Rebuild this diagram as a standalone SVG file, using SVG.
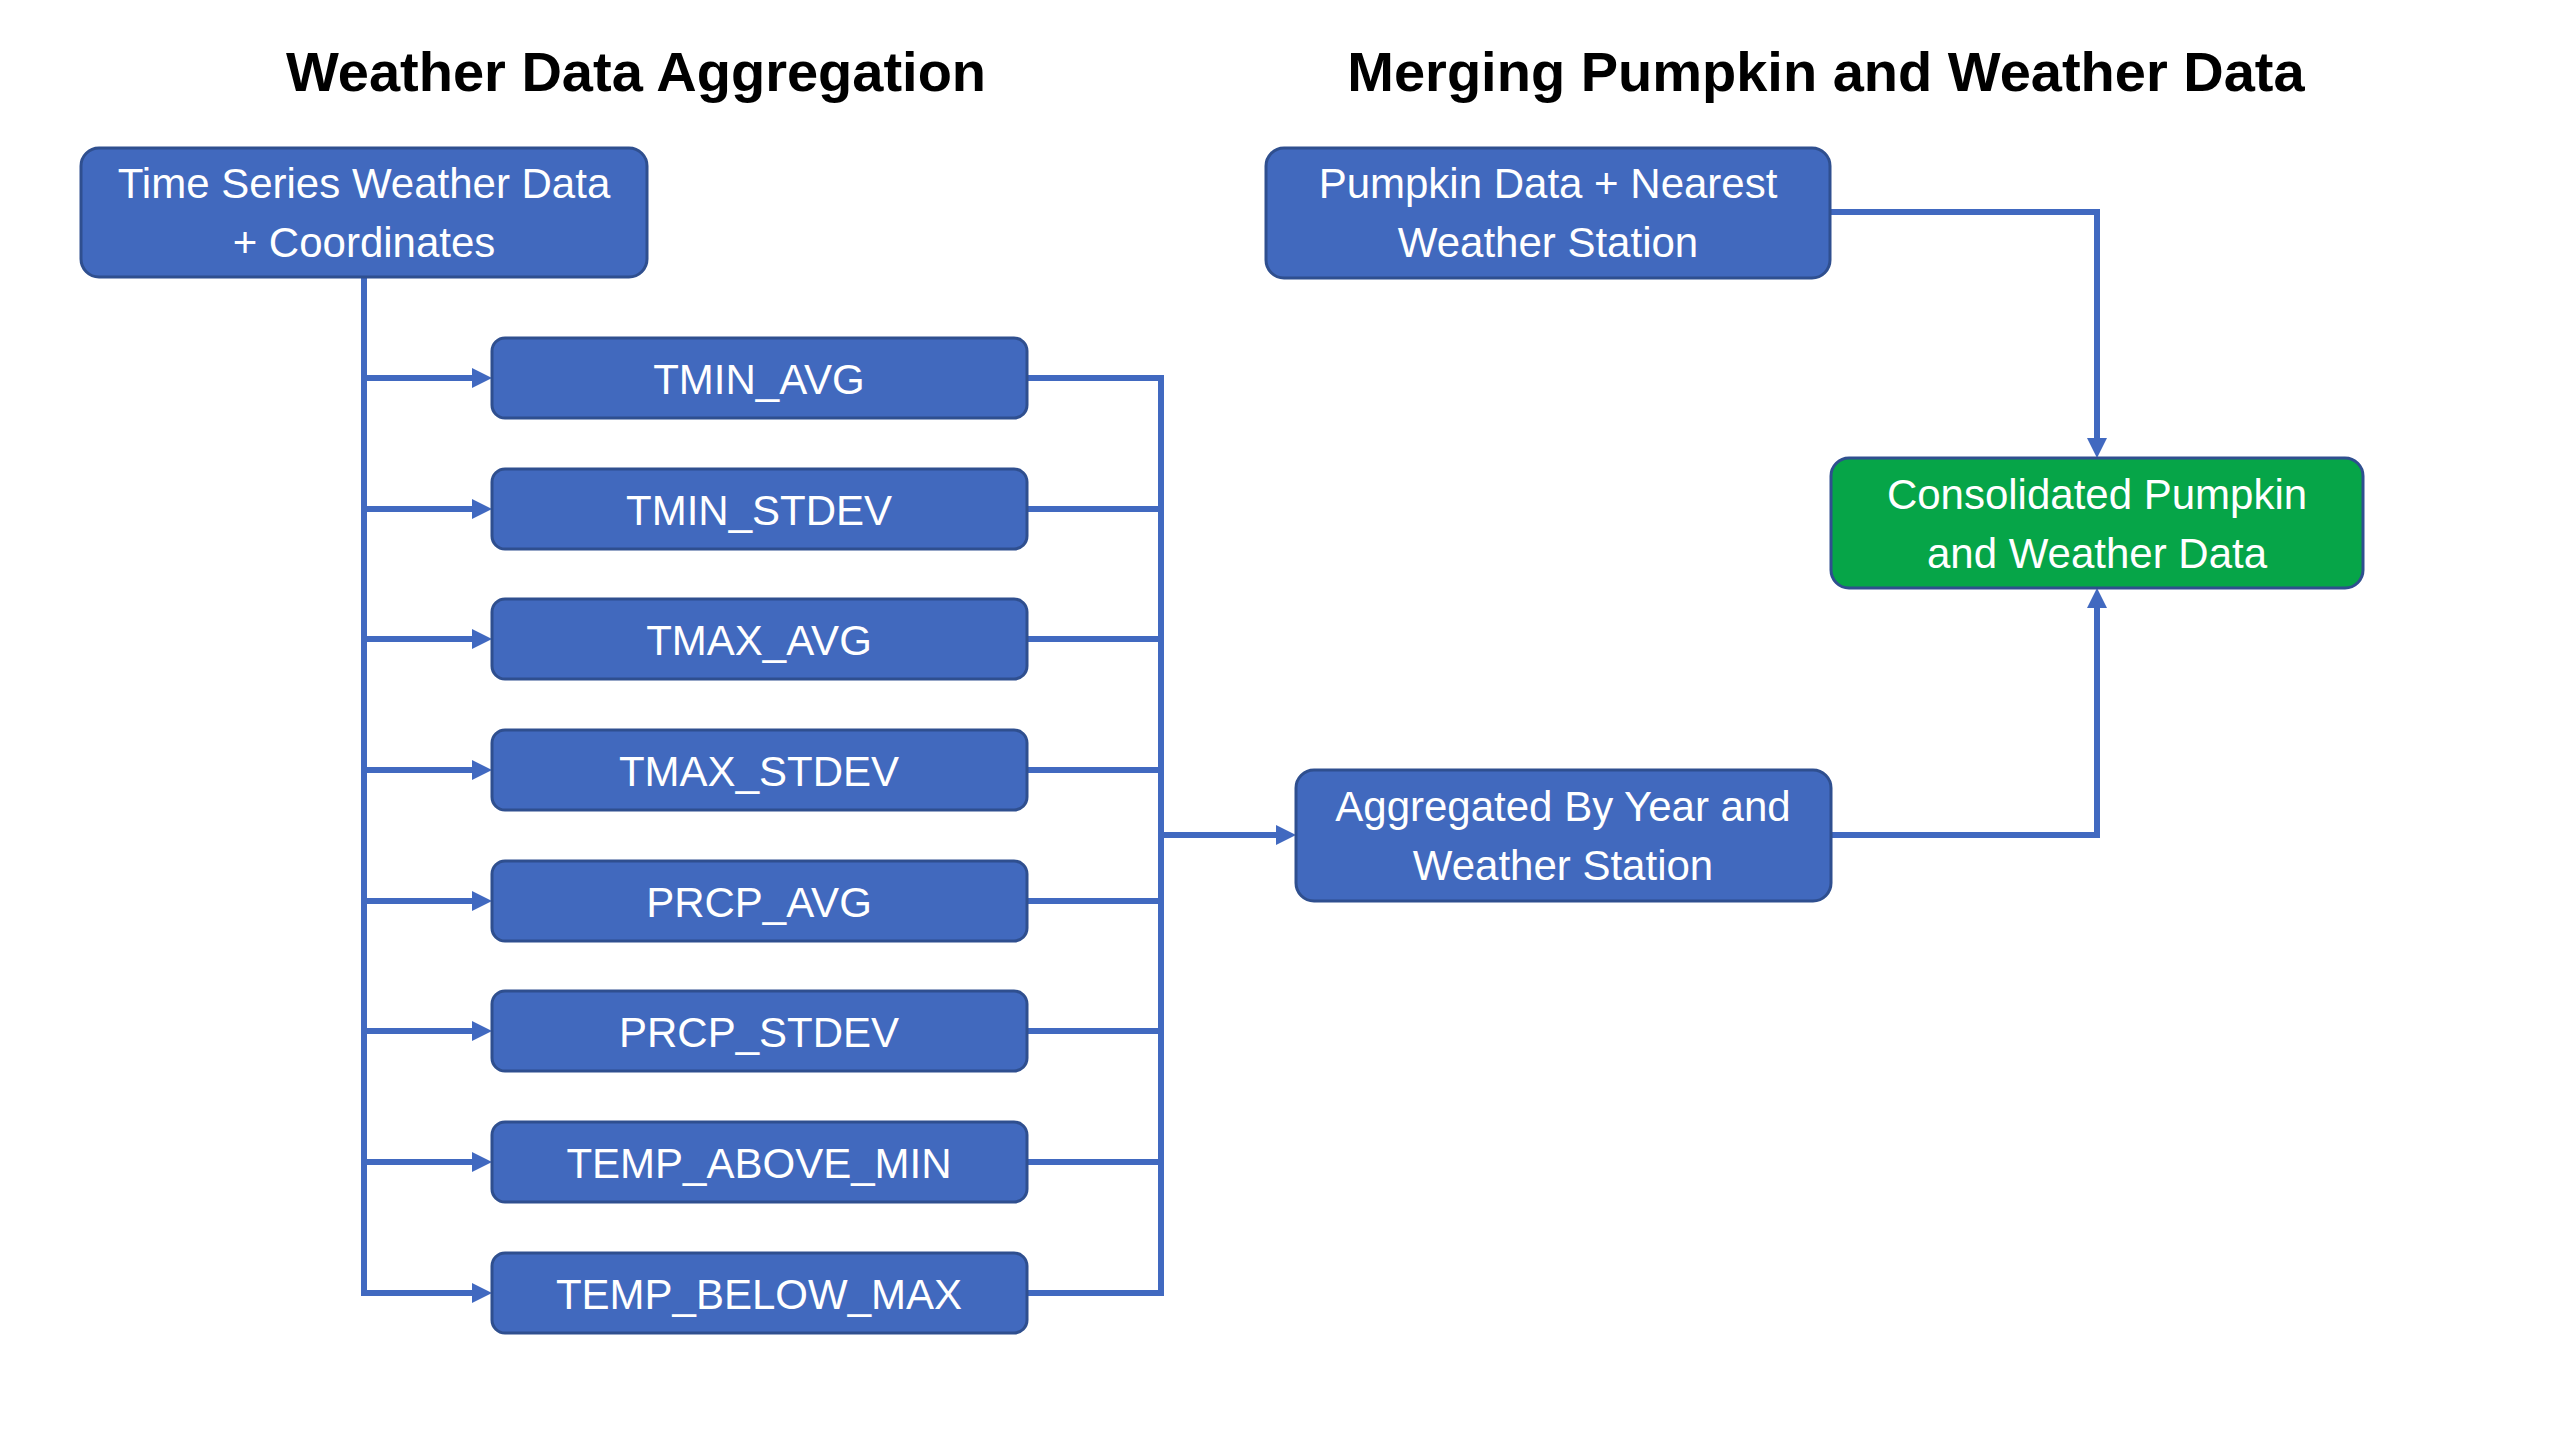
<svg xmlns="http://www.w3.org/2000/svg" width="2560" height="1440" viewBox="0 0 2560 1440">
<style>
.title{font-family:"Liberation Sans",Arial,sans-serif;font-weight:bold;font-size:56px;fill:#000;text-anchor:middle}
.box{fill:#4169BE;stroke:#2F4F8F;stroke-width:3}
.green{fill:#06A548;stroke:#2F4F8F;stroke-width:3}
.lbl{font-family:"Liberation Sans",Arial,sans-serif;font-size:42px;fill:#fff;text-anchor:middle}
.conn{fill:none;stroke:#4169C0;stroke-width:6;stroke-linejoin:miter}
</style>
<defs>
<marker id="arr" markerUnits="userSpaceOnUse" markerWidth="20" markerHeight="20" refX="10" refY="10" orient="auto">
<path d="M0,0 L20,10 L0,20 z" fill="#4169C0"/>
</marker>
</defs>
<rect width="2560" height="1440" fill="#fff"/>
<text class="title" x="636" y="91">Weather Data Aggregation</text>
<text class="title" x="1826" y="91">Merging Pumpkin and Weather Data</text>

<g id="connectors">
<path class="conn" d="M364,277 V1293 H482" marker-end="url(#arr)"/>
<path class="conn" d="M364,378 H482" marker-end="url(#arr)"/>
<path class="conn" d="M364,509 H482" marker-end="url(#arr)"/>
<path class="conn" d="M364,639 H482" marker-end="url(#arr)"/>
<path class="conn" d="M364,770 H482" marker-end="url(#arr)"/>
<path class="conn" d="M364,901 H482" marker-end="url(#arr)"/>
<path class="conn" d="M364,1031 H482" marker-end="url(#arr)"/>
<path class="conn" d="M364,1162 H482" marker-end="url(#arr)"/>
<path class="conn" d="M1027,378 H1161 V1293 H1027"/>
<path class="conn" d="M1027,509 H1161 M1027,639 H1161 M1027,770 H1161 M1027,901 H1161 M1027,1031 H1161 M1027,1162 H1161"/>
<path class="conn" d="M1161,835 H1286" marker-end="url(#arr)"/>
<path class="conn" d="M1830,212 H2097 V448" marker-end="url(#arr)"/>
<path class="conn" d="M1831,835 H2097 V598" marker-end="url(#arr)"/>
</g>

<g id="node-ts">
<rect class="box" x="81" y="148" width="566" height="129" rx="18"/>
<text class="lbl" x="364" y="198">Time Series Weather Data</text>
<text class="lbl" x="364" y="257">+ Coordinates</text>
</g>
<g id="node-tmin-avg">
<rect class="box" x="492" y="338" width="535" height="80" rx="13"/>
<text class="lbl" x="759" y="394">TMIN_AVG</text>
</g>
<g id="node-tmin-stdev">
<rect class="box" x="492" y="469" width="535" height="80" rx="13"/>
<text class="lbl" x="759" y="525">TMIN_STDEV</text>
</g>
<g id="node-tmax-avg">
<rect class="box" x="492" y="599" width="535" height="80" rx="13"/>
<text class="lbl" x="759" y="655">TMAX_AVG</text>
</g>
<g id="node-tmax-stdev">
<rect class="box" x="492" y="730" width="535" height="80" rx="13"/>
<text class="lbl" x="759" y="786">TMAX_STDEV</text>
</g>
<g id="node-prcp-avg">
<rect class="box" x="492" y="861" width="535" height="80" rx="13"/>
<text class="lbl" x="759" y="917">PRCP_AVG</text>
</g>
<g id="node-prcp-stdev">
<rect class="box" x="492" y="991" width="535" height="80" rx="13"/>
<text class="lbl" x="759" y="1047">PRCP_STDEV</text>
</g>
<g id="node-temp-above-min">
<rect class="box" x="492" y="1122" width="535" height="80" rx="13"/>
<text class="lbl" x="759" y="1178">TEMP_ABOVE_MIN</text>
</g>
<g id="node-temp-below-max">
<rect class="box" x="492" y="1253" width="535" height="80" rx="13"/>
<text class="lbl" x="759" y="1309">TEMP_BELOW_MAX</text>
</g>
<g id="node-aggregated">
<rect class="box" x="1296" y="770" width="535" height="131" rx="18"/>
<text class="lbl" x="1563" y="821">Aggregated By Year and</text>
<text class="lbl" x="1563" y="880">Weather Station</text>
</g>
<g id="node-pumpkin">
<rect class="box" x="1266" y="148" width="564" height="130" rx="18"/>
<text class="lbl" x="1548" y="198">Pumpkin Data + Nearest</text>
<text class="lbl" x="1548" y="257">Weather Station</text>
</g>
<g id="node-consolidated">
<rect class="green" x="1831" y="458" width="532" height="130" rx="18"/>
<text class="lbl" x="2097" y="509">Consolidated Pumpkin</text>
<text class="lbl" x="2097" y="568">and Weather Data</text>
</g>
</svg>
